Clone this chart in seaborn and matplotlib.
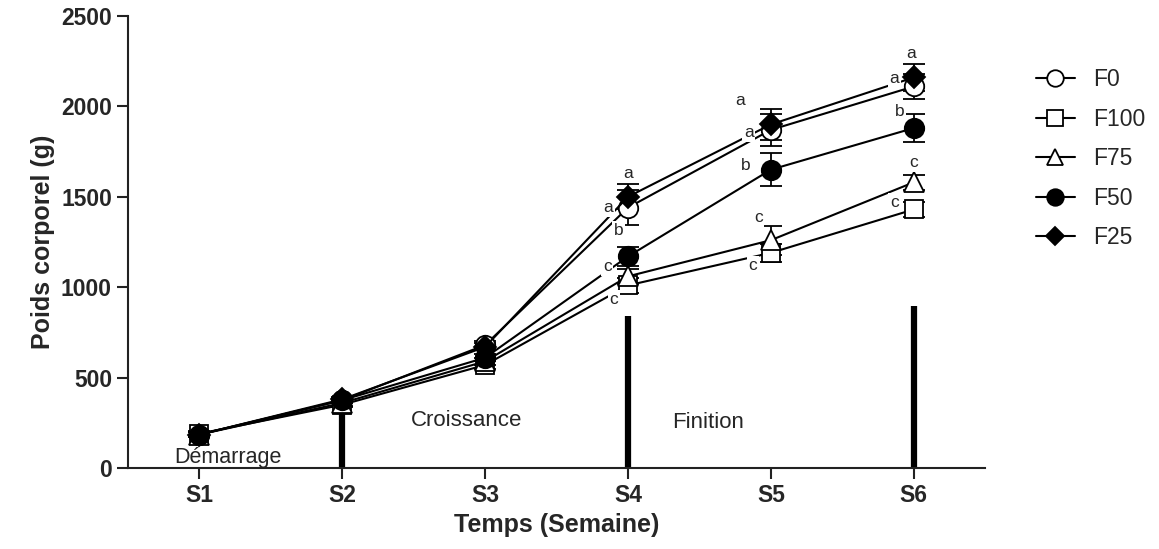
import matplotlib
matplotlib.use("Agg")
import matplotlib.pyplot as plt
import seaborn as sns
import pandas as pd
import numpy as np

# ---- data ----
weeks = ["S1", "S2", "S3", "S4", "S5", "S6"]
groups = ["F0", "F100", "F75", "F50", "F25"]
F0 = [185, 375, 680, 1440, 1870, 2110]
F100 = [190, 350, 570, 1010, 1190, 1430]
F75 = [185, 360, 590, 1060, 1260, 1580]
F50 = [185, 375, 610, 1170, 1650, 1880]
F25 = [185, 380, 670, 1500, 1900, 2160]
F0_err = [15, 15, 20, 95, 90, 70]
F100_err = [15, 15, 20, 40, 50, 40]
F75_err = [15, 15, 20, 40, 80, 40]
F50_err = [15, 15, 20, 53, 90, 78]
F25_err = [15, 15, 20, 70, 85, 75]
phase_names = ["Démarrage", "Croissance", "Finition"]
phase_bounds = ["S2", "S4", "S6"]
phase_bound_heights = [300, 840, 895]
# significance letters: (group, week, letter)
letters = [
    ("F25", "S4", "a"), ("F0", "S4", "a"), ("F50", "S4", "b"), ("F75", "S4", "c"), ("F100", "S4", "c"),
    ("F25", "S5", "a"), ("F0", "S5", "a"), ("F50", "S5", "b"), ("F75", "S5", "c"), ("F100", "S5", "c"),
    ("F25", "S6", "a"), ("F0", "S6", "a"), ("F50", "S6", "b"), ("F75", "S6", "c"), ("F100", "S6", "c"),
]

values = {"F0": F0, "F100": F100, "F75": F75, "F50": F50, "F25": F25}
errors = {"F0": F0_err, "F100": F100_err, "F75": F75_err, "F50": F50_err, "F25": F25_err}

rows = []
for g in groups:
    for i, w in enumerate(weeks):
        rows.append({"group": g, "week": w, "xi": i, "poids": values[g][i], "err": errors[g][i]})
df = pd.DataFrame(rows)

# ---- style ----
sns.set_style("ticks")
plt.rcParams["font.family"] = ["Liberation Sans", "DejaVu Sans"]

fig = plt.figure(figsize=(11.59, 5.49), dpi=100)
ax = fig.add_axes([0.1104, 0.1475, 0.7396, 0.8234])

styles = {
    "F0": dict(marker="o", markerfacecolor="white", ms=14),
    "F100": dict(marker="s", markerfacecolor="white", ms=13),
    "F75": dict(marker="^", markerfacecolor="white", ms=14),
    "F50": dict(marker="o", markerfacecolor="black", ms=14),
    "F25": dict(marker="D", markerfacecolor="black", ms=11),
}

# phase separators
for wk, h in zip(phase_bounds, phase_bound_heights):
    xi = weeks.index(wk)
    ax.vlines(xi, 0, h, color="black", lw=4.5, zorder=1)

for g in groups:
    sub = df[df.group == g]
    ax.errorbar(sub.xi, sub.poids, yerr=sub.err, fmt="none", ecolor="black",
                elinewidth=1.3, capsize=8, capthick=1.3, zorder=2)
    sns.lineplot(data=sub, x="xi", y="poids", ax=ax, color="black", lw=1.5,
                 markeredgecolor="black", markeredgewidth=1.3, label=g,
                 zorder=3, **styles[g])

# letter offsets in points (dx, dy)
offsets = {
    ("F25", "S4"): (0, 17), ("F0", "S4"): (-14, 0), ("F50", "S4"): (-7, 19),
    ("F75", "S4"): (-15, 7), ("F100", "S4"): (-10, -10),
    ("F25", "S5"): (-22, 17), ("F0", "S5"): (-16, -2), ("F50", "S5"): (-18, 3),
    ("F75", "S5"): (-9, 16), ("F100", "S5"): (-13, -9),
    ("F25", "S6"): (-2, 17), ("F0", "S6"): (-14, 6), ("F50", "S6"): (-10, 12),
    ("F75", "S6"): (0, 14), ("F100", "S6"): (-14, 5),
}
for g, w, lt in letters:
    xi = weeks.index(w)
    yv = values[g][xi]
    dx, dy = offsets[(g, w)]
    ax.annotate(lt, (xi, yv), xytext=(dx, dy), textcoords="offset points",
                ha="center", va="center", fontsize=12.5, zorder=5,
                bbox=dict(boxstyle="square,pad=0.1", fc="white", ec="none"))

# phase labels
ax.text(0.2, 58, phase_names[0], ha="center", va="center", fontsize=15.5, zorder=6)
ax.text(1.87, 265, phase_names[1], ha="center", va="center", fontsize=16, zorder=6)
ax.text(3.56, 250, phase_names[2], ha="center", va="center", fontsize=16, zorder=6)

ax.set_xlim(-0.5, 5.5)
ax.set_ylim(0, 2500)
ax.set_xticks(range(len(weeks)))
ax.set_xticklabels(weeks)
ax.set_yticks([0, 500, 1000, 1500, 2000, 2500])
for lab in ax.get_xticklabels() + ax.get_yticklabels():
    lab.set_fontweight("bold")
    lab.set_fontsize(16.5)
ax.set_xlabel("Temps (Semaine)", fontsize=18, fontweight="bold", labelpad=4)
ax.set_ylabel("Poids corporel (g)", fontsize=18, fontweight="bold", labelpad=4)
for s in ["left", "bottom"]:
    ax.spines[s].set_linewidth(1.5)
    ax.spines[s].set_color("#222222")
for s in ["top", "right"]:
    ax.spines[s].set_visible(False)
ax.tick_params(axis="both", length=8, width=1.5, color="#222222")

leg = ax.legend(loc="upper left", bbox_to_anchor=(1.035, 0.93), frameon=False,
                fontsize=16.5, handlelength=1.7, labelspacing=0.72, handletextpad=0.8,
                markerscale=0.85)

fig.savefig("out.png", dpi=100)
